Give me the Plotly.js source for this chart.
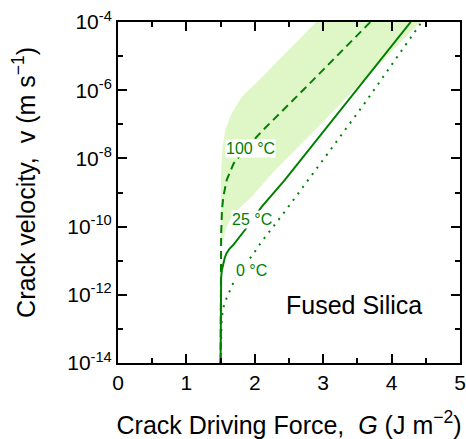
<!DOCTYPE html>
<html>
<head>
<meta charset="utf-8">
<script src="https://cdn.plot.ly/plotly-3.0.1.min.js"></script>
<style>html,body{margin:0;padding:0;background:#fff;}#chart{width:466px;height:439px;}</style>
</head>
<body>
<div id="chart"></div>
<script>
// Crack driving force G (J m^-2) and log10 crack velocity (m s^-1)
const g25 = [1.50, 1.501, 1.503, 1.508, 1.518, 1.537, 1.56, 1.587, 1.63, 1.684, 1.76, 1.855, 1.97, 2.10, 2.44, 2.95, 3.60, 4.28];
const logv25 = [-14, -12.3, -11.8, -11.5, -11.28, -11.07, -10.92, -10.78, -10.65, -10.54, -10.35, -10.10, -9.78, -9.42, -8.63, -7.35, -5.72, -4.0];

const g0 = [1.50, 1.502, 1.507, 1.514, 1.537, 1.587, 1.684, 1.80, 1.95, 2.10, 2.42, 2.73, 3.01, 3.60, 4.44];
const logv0 = [-14, -13.5, -13.0, -12.73, -12.39, -12.10, -11.66, -11.25, -10.88, -10.44, -9.61, -8.78, -8.01, -6.40, -4.0];

const g100 = [1.50, 1.502, 1.508, 1.52, 1.54, 1.59, 1.69, 1.85, 2.12, 2.73, 3.17, 3.69];
const logv100 = [-14, -11.5, -10.2, -9.5, -9.12, -8.63, -8.15, -7.75, -7.17, -5.95, -5.07, -4.0];

// shaded band (outline, upper edge then lower edge)
const gBand = [1.505, 1.505, 1.53, 1.57, 1.66, 1.81, 2.06, 2.90, 4.42, 2.95, 2.25, 1.96, 1.69, 1.59, 1.54, 1.505];
const logvBand = [-10.45, -8.5, -7.66, -7.17, -6.68, -6.2, -5.71, -4.0, -4.0, -7.02, -8.44, -9.12, -9.61, -10.0, -10.39, -10.45];

const xTicks = [0, 1, 2, 3, 4, 5];
const xMinor = [0.5, 1.5, 2.5, 3.5, 4.5];
const yExpMajor = [-14, -12, -10, -8, -6, -4];
const yExpMinor = [-13, -11, -9, -7, -5];
const yTickText = ['10<sup>-14</sup>', '10<sup>-12</sup>', '10<sup>-10</sup>', '10<sup>-8</sup>', '10<sup>-6</sup>', '10<sup>-4</sup>'];

const labels = [
  {text: '100 °C', g: 1.94, logv: -7.70},
  {text: '25 °C', g: 1.965, logv: -9.78},
  {text: '0 °C', g: 1.957, logv: -11.30}
];

const toV = a => a.map(e => Math.pow(10, e));
const GREEN = 'rgb(0,128,0)';
const FONT = 'Liberation Sans, Arial, sans-serif';

const traces = [
  {x: gBand, y: toV(logvBand), mode: 'none', fill: 'toself', fillcolor: 'rgb(223,246,198)', hoverinfo: 'skip'},
  {x: g0, y: toV(logv0), mode: 'lines', line: {color: GREEN, width: 2, dash: '2px,6px'}},
  {x: g25, y: toV(logv25), mode: 'lines', line: {color: GREEN, width: 2}},
  {x: g100, y: toV(logv100), mode: 'lines', line: {color: GREEN, width: 2, dash: '8px,5px'}}
];

const annotations = labels.map(l => ({
  x: l.g, y: l.logv, xref: 'x', yref: 'y', text: l.text, showarrow: false,
  font: {family: FONT, size: 16, color: GREEN}, bgcolor: 'white', borderpad: 0
}));
annotations.push({
  x: 3.45, y: -12.29, xref: 'x', yref: 'y', text: 'Fused Silica', showarrow: false,
  font: {family: FONT, size: 25, color: 'black'}
});
// y-axis title (placed as annotation to match the reference's position)
annotations.push({
  x: -0.275, y: 0.531, xref: 'paper', yref: 'paper', xanchor: 'center', yanchor: 'middle',
  text: 'Crack velocity,&nbsp; v (m s<sup>\u22121</sup>)', textangle: -90, showarrow: false,
  font: {family: FONT, size: 25, color: 'black'}
});

const axisCommon = {
  showline: true, linewidth: 2, linecolor: 'black', mirror: 'ticks',
  ticks: 'inside', ticklen: 9, tickwidth: 2, tickcolor: 'black',
  showgrid: false, zeroline: false,
  tickfont: {family: FONT, size: 21, color: 'black'}
};

const layout = {
  width: 466, height: 439,
  margin: {l: 118, r: 6, t: 22, b: 76},
  paper_bgcolor: 'white', plot_bgcolor: 'white',
  showlegend: false,
  font: {family: FONT, color: 'black'},
  xaxis: Object.assign({}, axisCommon, {
    range: [0, 5], tickmode: 'array', tickvals: xTicks, ticktext: xTicks.map(String),
    minor: {tickmode: 'array', tickvals: xMinor, ticks: 'inside', ticklen: 5, tickwidth: 2, tickcolor: 'black', showgrid: false},
    title: {text: 'Crack Driving Force,&nbsp; <i>G</i> (J m<sup>\u22122</sup>)', font: {family: FONT, size: 25, color: 'black'}, standoff: 24}
  }),
  yaxis: Object.assign({}, axisCommon, {
    type: 'log', range: [-14, -4], tickmode: 'array',
    tickvals: toV(yExpMajor), ticktext: yTickText,
    minor: {tickmode: 'array', tickvals: toV(yExpMinor), ticks: 'inside', ticklen: 5, tickwidth: 2, tickcolor: 'black', showgrid: false}
  }),
  annotations: annotations
};

Plotly.newPlot('chart', traces, layout, {staticPlot: true, displayModeBar: false});
</script>
</body>
</html>
